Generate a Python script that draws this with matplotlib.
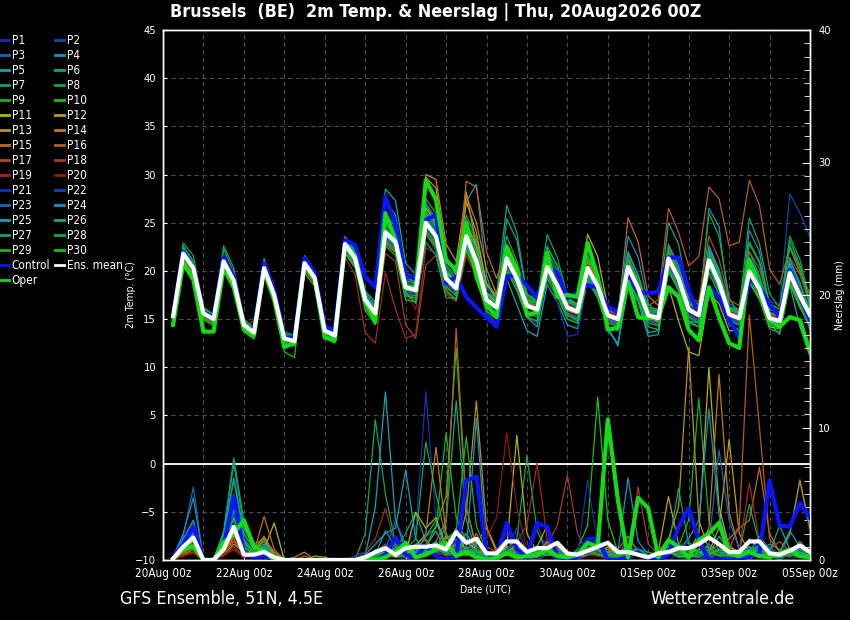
import numpy as np
import pandas as pd
import matplotlib
matplotlib.use("Agg")
import matplotlib.pyplot as plt
import matplotlib.dates as mdates
from matplotlib.lines import Line2D
from matplotlib.ticker import MultipleLocator

plt.rcParams['font.family'] = ['DejaVu Sans']
plt.rcParams['font.stretch'] = 'condensed'

# ---------------- time axis (6-hourly, 20Aug 06z .. 05Sep 00z) ----------------
times = pd.date_range("2026-08-20 06:00", "2026-09-05 00:00", freq="6h")
tick_labels = ["20Aug 00z", "22Aug 00z", "24Aug 00z", "26Aug 00z", "28Aug 00z",
               "30Aug 00z", "01Sep 00z", "03Sep 00z", "05Sep 00z"]

# ---------------- 2m temperature (deg C) ----------------
t_mean = [15.3,21.8,20.3,15.6, 15.0,21.0,19.0,14.4, 13.6,20.3,17.5,13.0, 12.7,20.8,19.3,13.8,
          13.3,22.8,21.3,17.0, 15.6,24.0,23.0,18.3, 18.0,25.0,23.6,19.2, 18.2,23.6,21.0,17.0,
          16.2,21.3,19.2,16.4, 16.0,20.4,18.5,16.2, 15.8,20.3,18.4,15.4, 15.0,20.4,18.2,15.4,
          15.1,21.3,19.2,16.0, 15.4,21.1,18.8,15.5, 15.1,19.9,18.1,15.1, 14.8,19.8,17.4,15.4]
t_ctrl = [15.4,22.0,20.4,15.7, 15.2,21.4,19.4,14.2, 13.9,20.8,18.0,13.1, 13.1,21.3,19.8,14.2,
          13.9,23.2,22.7,19.4, 18.3,27.7,24.8,19.4, 19.4,25.3,25.8,18.7, 19.4,17.3,16.2,15.2,
          14.2,19.4,19.6,18.5, 17.2,20.6,19.8,17.2, 17.7,18.5,18.3,16.3, 15.7,19.4,17.8,17.7,
          17.8,21.4,21.4,18.0, 15.4,18.3,17.3,14.9, 13.1,19.3,18.3,16.5, 15.2,20.1,17.3,14.9]
t_oper = [14.4,20.8,19.1,13.7, 13.7,20.3,18.3,13.9, 13.3,20.1,17.0,12.1, 12.5,20.8,19.1,13.1,
          12.8,22.5,21.6,17.0, 14.7,26.0,23.2,18.3, 18.2,29.4,27.4,21.1, 20.1,25.0,19.4,16.5,
          15.2,22.5,20.1,15.4, 15.7,21.9,17.3,17.5, 17.3,22.9,19.4,13.9, 14.1,18.9,15.2,15.1,
          15.2,18.3,17.3,13.9, 12.8,18.3,15.2,12.5, 12.0,21.1,18.3,14.9, 14.2,15.2,14.9,11.6]

t_P1 = [15.5,22.2,20.6,15.8, 15.2,21.3,19.4,14.6, 13.8,20.6,17.8,13.2, 12.9,21.2,19.7,14.1, 13.5,23.3,22.0,17.8, 16.4,25.0,23.8,18.9, 18.5,24.2,22.5,18.6, 17.5,22.4,20.1,16.2, 15.4,20.6,18.7,15.9, 15.5,19.8,18.1,15.6, 15.0,19.5,17.8,14.9, 14.5,19.6,17.5,14.6, 14.3,20.1,18.3,15.1, 14.6,20.0,18.0,14.7, 14.3,19.2,17.6,14.6, 14.2,19.0,16.9,14.8]
t_P2 = [15.2,21.6,20.1,15.4, 14.8,20.7,18.7,14.2, 13.4,20.0,17.2,12.8, 12.5,20.5,19.0,13.6, 13.1,22.4,21.0,16.7, 15.2,23.4,22.4,17.9, 17.6,24.3,22.0,18.4, 18.0,22.8,20.5,16.4, 15.8,20.2,18.0,15.2, 14.8,19.2,17.4,15.0, 14.6,19.4,17.6,14.8, 14.2,21.2,19.3,16.0, 15.6,22.0,19.8,16.5, 16.0,22.4,19.9,16.3, 15.9,21.0,19.2,16.8, 16.5,28.0,26.0,23.5]
t_P3 = [15.6,22.4,20.9,16.0, 15.4,21.6,19.6,14.9, 14.0,21.0,18.0,13.5, 13.2,21.4,19.9,14.3, 13.9,23.6,22.2,18.0, 16.5,25.4,24.3,19.8, 19.4,26.2,24.8,20.6, 19.5,25.4,23.0,18.2, 17.0,22.4,20.0,16.8, 16.3,20.8,18.9,16.6, 16.2,21.2,19.4,16.3, 15.8,21.6,19.2,16.2, 16.0,22.5,20.5,17.0, 16.2,22.4,20.2,16.6, 16.0,21.0,19.3,16.0, 15.7,20.8,18.4,16.2]
t_P4 = [15.1,22.0,20.5,15.5, 14.9,21.2,19.2,14.5, 13.5,20.4,17.4,12.9, 12.6,20.6,19.0,13.7, 13.2,22.6,21.4,17.4, 16.0,27.3,25.8,19.6, 18.6,25.6,24.4,20.0, 18.8,27.2,29.0,19.5, 16.4,21.6,19.5,16.4, 16.1,20.6,18.8,16.3, 15.6,20.1,18.0,15.0, 14.6,20.0,17.9,15.0, 14.8,20.6,18.6,15.2, 15.0,26.5,24.6,16.2, 15.2,20.4,18.4,15.3, 15.0,20.2,18.0,15.6]
t_P5 = [15.4,21.9,20.4,15.7, 15.1,21.1,19.1,14.5, 13.7,20.5,17.7,13.1, 12.8,21.0,19.4,14.0, 13.6,23.4,22.1,17.9, 16.8,28.5,27.3,20.8, 19.6,26.8,25.0,19.6, 17.6,22.2,19.6,15.6, 14.4,19.2,16.5,13.8, 13.2,18.6,16.8,14.4, 14.0,19.6,17.3,13.8, 12.5,18.2,16.8,13.2, 13.4,20.0,18.0,14.6, 14.2,22.6,20.1,15.3, 14.5,22.0,19.5,14.6, 13.4,18.6,14.2,11.2]
t_P6 = [15.2,22.6,21.0,15.9, 15.3,22.3,19.8,14.7, 13.9,20.8,17.9,13.4, 12.9,21.6,20.0,14.4, 13.8,23.2,21.8,17.5, 16.2,24.6,23.8,18.8, 18.5,27.0,25.4,20.5, 19.2,24.4,22.6,18.5, 17.5,26.8,24.0,17.5, 16.8,21.4,19.6,16.7, 16.5,21.0,19.2,16.0, 15.6,21.8,19.6,15.9, 15.8,25.0,22.8,17.2, 16.5,21.8,19.4,15.8, 15.6,21.4,19.2,15.6, 15.4,21.2,18.6,15.9]
t_P7 = [14.9,21.4,19.9,15.2, 14.6,20.6,18.6,14.0, 13.2,19.9,17.0,12.6, 12.3,20.2,18.8,13.4, 12.9,22.2,20.7,16.4, 15.0,22.8,21.9,17.6, 17.4,24.6,23.0,18.8, 17.9,23.0,20.4,16.6, 16.0,22.4,20.6,17.2, 16.6,23.8,21.4,17.4, 16.2,21.4,19.5,15.9, 15.4,21.0,18.8,15.6, 15.3,21.6,19.6,16.2, 15.8,21.8,19.6,16.2, 16.0,25.5,22.8,17.6, 16.2,22.5,19.8,16.4]
t_P8 = [15.0,22.9,21.6,16.2, 15.5,22.6,20.3,15.0, 14.1,21.3,18.4,13.7, 13.3,21.0,19.5,13.9, 13.4,22.9,21.5,17.2, 15.8,24.4,23.3,18.5, 18.2,27.5,26.0,21.0, 19.8,25.8,23.4,18.8, 17.4,23.6,21.0,17.4, 16.9,22.6,20.5,17.0, 16.0,20.8,18.8,15.7, 15.2,20.8,18.6,15.6, 15.4,21.6,19.4,16.2, 15.7,26.0,23.6,17.2, 15.5,20.6,18.7,15.5, 15.2,20.2,17.8,15.7]
t_P9 = [15.3,21.7,20.2,15.5, 15.0,21.0,18.9,14.3, 13.6,20.2,17.4,12.9, 12.6,20.7,19.2,13.7, 13.2,22.7,21.2,16.9, 15.5,23.6,22.6,18.0, 17.8,24.8,23.4,19.0, 18.0,23.3,20.8,16.8, 16.0,21.0,19.0,16.2, 15.8,20.2,18.3,16.0, 15.6,20.0,18.2,15.2, 14.8,20.1,18.0,15.2, 14.9,21.0,19.0,15.8, 15.2,20.8,18.6,15.3, 14.9,19.6,17.9,14.9, 14.6,19.5,17.2,15.2]
t_P10 = [15.7,22.3,20.8,16.1, 15.4,21.6,19.5,14.8, 14.0,20.8,18.0,13.4, 13.1,21.3,19.8,14.2, 13.7,23.4,21.9,17.6, 16.1,24.8,23.6,18.8, 18.6,25.8,24.2,19.8, 18.8,24.3,21.6,17.6, 16.8,22.0,19.9,17.0, 16.6,21.0,19.0,16.8, 16.4,21.0,19.0,16.0, 15.6,21.1,18.8,16.0, 15.8,22.0,19.9,16.6, 16.0,21.8,19.4,16.1, 15.7,20.6,18.7,15.7, 15.4,20.5,18.0,16.0]
t_P11 = [15.0,21.2,19.7,15.1, 14.5,20.4,18.4,13.9, 13.1,19.8,16.9,12.5, 12.2,20.1,18.6,13.2, 12.7,22.0,20.5,16.2, 14.6,23.0,22.0,17.4, 17.2,26.5,25.0,19.8, 19.0,25.0,22.6,17.8, 16.6,21.8,19.8,16.6, 16.4,20.8,18.6,16.0, 15.6,23.8,21.5,16.2, 15.2,21.0,18.8,15.6, 14.6,18.4,14.8,11.6, 11.2,17.6,16.6,13.8, 13.8,18.8,17.2,14.2, 14.0,18.8,16.4,14.6]
t_P12 = [15.5,22.1,20.6,15.9, 15.2,21.4,19.3,14.7, 13.8,20.6,17.8,13.3, 12.9,21.1,19.6,14.1, 13.5,23.1,21.6,17.3, 15.9,24.2,23.2,18.4, 18.2,29.7,28.6,21.5, 19.6,27.2,24.0,18.6, 17.2,22.6,20.2,16.8, 16.0,20.2,18.2,15.9, 15.5,20.0,18.0,15.2, 14.9,20.2,18.0,15.2, 15.0,21.0,19.0,15.8, 15.3,20.9,18.6,15.3, 15.0,19.7,17.9,15.0, 14.7,19.6,17.2,15.3]
t_P13 = [15.2,21.5,20.0,15.4, 14.8,20.8,18.8,14.2, 13.4,20.1,17.3,12.8, 12.5,20.6,19.1,13.6, 13.1,22.6,21.1,16.8, 15.4,23.8,22.8,18.1, 18.3,30.0,29.5,22.8, 21.0,28.2,22.5,17.5, 16.0,21.0,19.0,16.2, 15.9,20.4,18.4,16.0, 15.6,20.2,18.2,15.2, 14.8,20.3,18.0,15.2, 14.8,21.2,19.0,15.8, 15.2,20.9,18.6,15.4, 15.0,19.8,18.0,15.0, 14.6,19.6,17.2,15.2]
t_P14 = [15.6,22.0,20.4,15.6, 15.1,21.2,19.2,14.6, 13.8,20.5,17.7,13.2, 12.9,21.0,19.5,14.0, 13.5,23.0,21.5,17.2, 15.8,24.4,23.3,18.6, 18.3,25.6,24.0,19.6, 18.6,27.8,25.0,20.2, 17.6,22.8,20.6,17.0, 16.3,20.8,18.8,16.4, 16.0,20.8,18.8,15.8, 15.4,21.0,18.8,15.8, 15.5,21.8,19.6,16.4, 15.8,21.6,19.2,15.9, 15.5,20.4,18.5,15.5, 15.2,20.4,17.9,15.8]
t_P15 = [15.1,21.6,20.1,15.4, 14.9,20.8,18.8,14.2, 13.5,20.1,17.3,12.8, 12.6,20.6,19.1,13.6, 13.1,22.5,21.0,16.8, 15.4,23.8,22.8,18.2, 17.8,24.6,23.2,18.8, 18.4,29.3,28.7,22.0, 19.2,22.4,20.4,16.8, 16.2,20.8,18.8,16.4, 16.0,21.2,19.0,15.8, 15.2,25.5,23.0,17.4, 16.4,21.6,19.4,16.2, 15.6,21.6,19.2,15.8, 15.3,20.4,18.4,15.2, 15.0,20.2,17.6,15.6]
t_P16 = [15.3,21.9,20.4,15.7, 15.0,21.1,19.0,14.4, 13.6,20.3,17.6,13.0, 12.7,20.9,19.4,13.9, 13.3,22.9,21.4,17.1, 15.6,24.1,23.1,18.4, 18.0,25.1,23.7,19.3, 18.3,23.7,21.1,17.1, 16.3,21.4,19.3,16.5, 16.1,20.5,18.6,16.3, 15.9,20.6,18.6,15.6, 15.4,21.4,19.0,16.4, 17.0,26.5,24.0,20.5, 21.5,28.7,27.5,22.6, 23.0,29.4,26.8,20.2, 18.6,22.4,20.0,17.6]
t_P17 = [14.8,21.3,19.8,15.0, 14.6,20.5,18.5,13.9, 13.2,19.8,17.0,12.6, 12.3,20.3,18.8,13.4, 12.8,22.1,20.6,16.2, 14.8,23.0,22.0,17.3, 17.0,24.0,22.6,18.2, 17.5,22.8,20.2,16.2, 15.4,20.6,18.5,15.8, 15.6,20.0,18.0,15.6, 15.2,19.8,17.8,14.8, 14.4,20.6,18.4,15.4, 15.6,22.8,20.6,17.2, 16.8,23.6,21.2,17.0, 16.4,22.0,20.2,16.6, 16.0,21.4,19.6,16.8]
t_P18 = [15.4,21.7,20.1,15.5, 14.9,20.9,18.9,14.3, 13.5,20.2,17.4,12.9, 12.6,20.7,19.2,13.7, 13.2,22.7,21.2,16.5, 14.6,21.8,21.0,14.4, 13.0,20.6,21.6,17.8, 17.0,22.0,19.6,16.0, 15.8,20.6,18.6,15.8, 15.4,19.8,17.9,15.6, 15.2,19.6,17.8,14.8, 14.5,19.8,17.6,14.9, 14.6,20.6,18.6,15.5, 14.9,20.5,18.2,15.0, 14.6,19.4,17.6,14.7, 14.3,19.2,16.8,14.9]
t_P19 = [15.0,21.4,19.9,15.2, 14.7,20.6,18.5,14.0, 14.9,19.4,16.8,12.5, 12.2,20.0,18.6,13.2, 12.8,21.4,19.6,13.6, 12.5,19.8,16.0,13.0, 13.4,22.4,21.8,17.6, 16.8,21.6,19.4,15.8, 15.2,20.4,18.4,15.6, 15.6,19.8,18.0,15.6, 15.0,19.6,17.6,14.6, 14.4,19.6,17.6,14.8, 14.4,20.4,18.4,15.4, 14.8,20.4,18.2,15.0, 14.6,19.4,17.6,14.6, 14.2,19.0,16.8,14.8]
t_P20 = [15.3,21.5,20.0,15.4, 14.9,20.8,18.8,14.2, 13.5,20.1,17.3,12.9, 12.6,20.6,19.1,13.6, 13.1,22.3,20.8,16.4, 15.0,23.2,22.2,17.6, 16.0,23.8,23.0,18.6, 18.2,23.4,21.6,17.2, 16.6,21.2,19.2,16.5, 16.2,21.0,19.2,16.6, 16.0,20.6,18.8,15.8, 15.4,20.8,18.8,15.8, 15.6,21.6,19.6,16.4, 15.8,21.4,19.2,15.8, 15.4,20.2,18.4,15.4, 15.0,20.0,17.6,15.6]
t_P21 = [15.6,22.3,20.7,15.9, 15.3,21.4,19.4,14.7, 13.9,20.6,17.8,13.3, 13.0,21.1,19.6,14.1, 13.6,23.1,21.6,17.4, 16.0,24.6,23.5,18.8, 18.6,24.8,23.0,18.8, 18.4,22.6,19.8,15.6, 14.6,20.2,18.0,15.2, 14.6,19.6,16.8,13.2, 13.4,19.2,17.4,14.6, 14.2,19.8,17.6,14.8, 14.6,20.8,18.8,15.6, 15.0,20.6,18.4,15.1, 14.8,19.6,17.8,14.8, 14.5,19.4,17.0,15.0]
t_P22 = [15.2,21.6,20.1,15.4, 14.8,20.8,18.8,14.2, 13.4,20.1,17.3,12.8, 12.5,20.6,19.1,13.6, 13.1,22.5,21.0,16.8, 15.6,25.2,24.0,19.2, 18.8,25.6,24.2,19.6, 18.6,24.0,21.4,17.4, 16.6,21.8,19.6,16.8, 16.4,20.8,18.8,16.4, 16.0,20.6,18.6,15.6, 15.2,20.6,18.4,15.6, 15.3,21.4,19.4,16.2, 15.6,21.4,19.0,15.7, 15.3,20.2,18.4,15.3, 15.0,20.0,17.6,15.6]
t_P23 = [15.4,22.0,20.5,15.8, 15.1,21.2,19.2,14.6, 13.7,20.5,17.7,13.2, 12.8,21.0,19.5,14.0, 13.4,23.0,21.5,17.2, 15.2,23.4,22.4,17.8, 17.6,24.4,23.0,18.8, 17.8,23.0,20.4,16.4, 15.6,20.8,18.7,15.9, 15.5,19.9,18.0,15.7, 15.2,19.8,17.9,14.9, 14.4,19.9,17.6,14.9, 14.5,20.8,18.7,15.5, 14.8,20.6,18.2,15.0, 14.5,19.4,17.6,14.6, 14.3,19.2,16.8,14.9]
t_P24 = [15.0,21.8,20.2,15.4, 14.9,21.0,19.0,14.4, 13.5,20.2,17.4,12.9, 12.6,20.8,19.3,13.8, 13.2,22.8,21.3,17.0, 15.5,23.9,22.9,18.2, 17.9,24.9,23.5,19.1, 18.1,23.5,20.9,16.9, 16.1,21.2,19.1,16.3, 15.9,20.3,18.4,16.1, 15.7,20.2,18.3,15.3, 14.9,23.6,21.4,16.6, 15.6,21.2,19.1,15.9, 15.3,21.0,18.7,15.4, 15.0,24.2,22.0,16.2, 15.4,21.2,18.8,15.6]
t_P25 = [15.5,22.1,20.6,15.9, 15.2,21.3,19.3,14.6, 13.8,20.6,17.8,13.3, 12.9,21.1,19.6,14.1, 13.5,23.2,21.8,17.5, 16.2,25.8,24.6,19.4, 18.8,26.0,24.6,20.0, 19.0,24.8,22.2,17.8, 16.2,21.0,18.8,15.2, 14.2,19.6,17.8,15.4, 14.8,19.4,17.4,14.2, 12.2,18.8,17.0,13.6, 13.8,20.0,18.0,14.8, 14.6,22.0,19.8,15.4, 14.8,20.6,18.6,14.8, 14.2,20.8,17.6,13.8]
t_P26 = [15.1,21.6,20.1,15.4, 14.8,20.7,18.7,14.2, 13.4,20.0,17.2,12.8, 12.5,20.5,19.0,13.6, 13.0,22.4,20.9,16.6, 15.2,23.6,22.6,17.8, 16.6,23.0,21.6,17.2, 17.2,22.6,20.0,16.2, 15.6,25.4,23.2,17.6, 17.0,22.0,20.0,17.2, 16.6,21.6,19.6,16.2, 15.8,22.0,19.6,16.2, 16.0,22.6,20.4,16.8, 16.2,22.2,19.8,16.2, 16.0,21.4,19.4,16.0, 15.6,22.6,20.4,16.6]
t_P27 = [15.3,22.2,20.6,15.8, 15.2,21.5,19.4,14.7, 13.8,20.7,17.9,13.3, 12.9,21.2,19.7,14.2, 13.6,23.2,21.7,17.3, 15.9,24.4,23.4,18.6, 18.4,25.4,24.0,19.6, 18.6,24.0,21.4,17.4, 16.6,21.8,19.6,16.8, 16.4,22.4,20.6,17.0, 16.4,21.4,19.4,16.0, 15.6,21.0,18.8,15.8, 15.6,22.2,20.0,16.6, 16.0,21.8,19.4,16.0, 15.6,22.8,20.8,16.4, 15.6,23.6,21.2,16.8]
t_P28 = [14.9,21.4,19.9,15.2, 14.6,20.6,18.6,14.0, 13.2,19.9,17.1,12.6, 12.3,20.3,18.8,13.4, 12.9,22.2,20.7,16.4, 14.9,23.2,22.2,17.5, 17.2,24.2,22.8,18.4, 17.4,22.8,20.2,16.2, 15.4,20.4,18.4,15.6, 15.2,19.6,17.8,15.4, 15.0,19.6,17.6,14.6, 14.2,19.6,17.4,14.6, 14.3,20.4,18.4,15.2, 14.6,20.4,18.0,14.8, 14.4,19.2,17.4,14.4, 14.0,19.0,16.6,14.6]
t_P29 = [15.6,22.4,20.8,16.0, 15.4,21.6,19.6,14.8, 14.0,20.9,18.1,13.5, 13.1,21.4,19.9,14.3, 13.8,23.5,22.0,17.7, 16.2,25.0,23.9,19.0, 18.7,26.2,24.6,20.2, 19.0,24.6,22.0,17.8, 17.0,22.4,20.2,17.2, 16.8,21.2,19.4,17.0, 16.6,21.4,19.4,16.2, 15.8,21.2,19.0,16.2, 16.0,22.2,20.0,16.6, 16.2,21.8,19.6,16.2, 15.8,23.0,21.0,16.6, 16.0,23.2,20.6,16.4]
t_P30 = [14.8,21.0,19.5,14.9, 14.3,20.2,18.2,13.7, 12.9,19.5,16.7,11.6, 11.0,19.8,18.4,13.0, 12.5,21.8,20.3,15.9, 14.4,22.6,21.6,17.0, 16.8,23.8,22.4,18.0, 17.0,22.2,19.6,15.8, 15.0,20.0,18.0,15.2, 14.8,19.2,17.4,15.0, 14.6,19.0,17.2,14.2, 13.8,19.2,17.0,14.2, 13.9,20.0,18.0,14.8, 14.2,19.8,17.6,14.4, 13.9,18.8,17.0,14.0, 13.6,18.6,16.2,14.2]

# ---------------- precipitation (mm / 6h) ----------------
p_mean = [0.1,1.0,1.7,0, 0,0.8,2.5,0.4, 0.4,0.6,0.2,0, 0,0,0,0, 0,0,0,0.2, 0.6,0.9,0.4,0.9,
          1.0,1.0,1.1,0.8, 2.1,1.3,1.6,0.5, 0.5,1.4,1.4,0.6, 0.9,0.9,1.3,0.5, 0.4,0.7,1.0,1.3,
          0.6,0.6,0.4,0.2, 0.5,0.6,0.9,0.9, 1.2,1.7,1.2,0.6, 0.6,1.4,1.4,0.5, 0.4,0.7,1.1,0.6]
p_ctrl = [0.2,1.2,2.5,0, 0,1.0,4.8,0.5, 0.2,0.3,0,0, 0,0,0,0, 0,0,0,0, 0,0.4,1.7,0.4,
          0.2,1.1,0.3,0, 0.2,6.0,6.3,0.5, 0.2,2.8,0.8,0.2, 2.8,2.5,0.3,0, 0.2,1.6,1.6,0,
          0,0.2,0.6,0, 0,0.4,2.5,3.9, 1.5,0,0,0, 0,0.3,0.5,6.0, 2.6,2.5,4.3,3.2]
p_oper = [0.1,0.8,1.0,0, 0,1.3,2.0,3.0, 1.0,0.7,0,0, 0,0,0,0, 0,0,0,0, 0,0.2,0.6,1.3,
          0.2,0.4,0.8,1.3, 0.3,0.6,0.2,0, 0.2,0.5,0.2,0.3, 0.4,0.8,0.3,0.2, 0.4,1.3,1.0,10.6,
          4.5,0.2,4.7,3.9, 0.2,1.5,1.0,0.2, 1.5,2.0,2.8,0.5, 0.3,0.6,0.3,0.2, 0.5,0.8,0.3,0.2]

p_P1 = [0.2,1.2,1.6,0, 0,0.8,2.4,0.6, 0.4,0.8,0.2,0, 0,0,0,0, 0,0,0,0, 0.3,0.8,0.4,1.0, 2.2,12.7,3.0,0.6, 0.4,0.8,1.2,0.2, 0,0.6,0.3,0, 0.4,1.2,0.6,0, 0,0.3,0.8,0.4, 0,0.5,1.0,0.2, 0,0,0.4,0.8, 0.2,0,0.6,1.2, 0.4,0,0.8,0.4, 0,0,0.3,0.6]
p_P2 = [0.1,0.9,1.4,0, 0,1.0,3.0,0.8, 0.5,0.6,0,0, 0,0,0,0, 0,0,0,0.2, 0.5,1.2,0.3,0, 0.4,0.8,0.6,1.4, 0.8,0.3,0.6,0, 0,0.8,0.4,0.6, 2.8,0.6,0,0, 0.2,0.6,0.4,0, 0,0.3,0.8,0.4, 0.2,0.6,0.3,0, 0,0.4,0.8,0.2, 0,0.5,1.2,0.6, 0.4,1.8,6.1,2.0]
p_P3 = [0.3,1.8,5.5,0, 0,1.4,3.6,1.2, 0.6,1.0,0.2,0, 0,0,0,0, 0,0,0,0, 0.8,0.4,1.6,0.6, 0.2,0.6,1.0,0.4, 1.4,2.0,0.6,0.3, 0.2,1.0,0.6,0.2, 0,0.4,1.2,0.3, 0,0.8,1.6,0.5, 0.2,1.8,0.6,0, 0,0.4,0.6,1.4, 0.6,0.2,0.4,0.8, 0.3,0,0.6,1.0, 0.4,0.2,1.0,0.3]
p_P4 = [0.2,2.0,4.7,0, 0,1.6,4.2,1.0, 0.4,1.2,0.3,0, 0,0,0,0, 0,0,0,0, 0.4,2.2,1.0,0.4, 0.8,1.2,0.4,0.8, 1.6,0.8,10.7,0.6, 0.2,0.4,1.4,0.4, 0.2,0.8,0.3,0, 0.4,1.0,0.6,0.2, 0.6,6.2,1.4,0.4, 0,0.6,0.4,0.8, 0.4,1.2,0.6,0.3, 0.2,1.6,0.8,0.4, 0,0.6,0.8,0.4]
p_P5 = [0.2,1.4,2.0,0, 0,1.6,6.2,2.0, 0.8,1.4,0.4,0, 0,0,0,0, 0,0,0,0.3, 4.0,12.7,3.0,0.8, 0.4,1.0,2.2,0.6, 0.3,0.6,0.8,0.2, 0,0.4,0.8,0.3, 0.6,1.4,0.4,0, 0.3,0.6,0.4,0.6, 0.2,0.8,0.4,0, 0.4,0.6,0.2,0.3, 0.8,0.4,1.8,0.6, 0.2,0.4,0.6,1.2, 0.8,0.3,0.6,0.2]
p_P6 = [0.1,1.2,2.4,0, 0,2.0,7.3,2.4, 1.0,0.8,0.2,0, 0,0,0,0, 0,0,0,0, 0.6,0.4,0.8,2.0, 3.6,1.4,0.6,2.8, 12.0,3.0,0.6,0.4, 0.2,0.6,1.0,0.4, 0.3,0.6,1.2,0.4, 0.2,0.4,0.8,0.3, 0.6,1.0,0.4,0.2, 0.4,0.8,0.6,0.2, 0.3,0.6,0.4,0.8, 0.4,1.0,0.6,0.3, 0.2,0.4,1.4,0.6]
p_P7 = [0.1,0.8,1.6,0, 0,2.2,7.7,3.0, 1.2,1.6,0.4,0, 0,0,0,0, 0,0,0,2.0, 10.6,5.0,1.2,0.4, 0.6,0.8,1.4,0.4, 0.8,1.0,0.4,0.2, 0,0.6,0.4,0.2, 0.2,0.6,0.8,0.4, 0.2,0.4,0.6,0.2, 0.2,0.6,0.8,0.2, 0.3,0.6,0.4,0.6, 0.8,0.6,0.3,1.0, 0.6,4.2,1.2,0.4, 0.3,0.6,0.8,0.4]
p_P8 = [0.2,1.0,1.8,0, 0,1.2,4.0,1.4, 0.6,0.8,0.2,0, 0,0,0,0, 0,0,0,0, 0.3,0.6,1.2,0.8, 1.6,8.9,5.0,1.6, 2.0,0.6,0.8,0.4, 0.3,0.8,1.6,7.9, 2.2,0.6,0.4,0.2, 0.3,0.6,0.4,0.2, 0.4,0.8,0.6,0.2, 0.2,0.6,0.8,0.4, 0.6,1.0,0.4,0.2, 0.4,0.6,1.0,0.6, 0.3,0.6,0.4,0.2]
p_P9 = [0.1,0.8,1.2,0, 0,1.0,2.6,1.0, 0.4,0.6,0.2,0, 0,0,0,0, 0,0,0,0, 0.2,0.6,0.4,0.8, 1.2,1.8,2.4,9.6, 3.2,1.4,0.6,0.2, 0.4,1.0,0.6,0.2, 0.3,0.4,1.0,0.6, 0.2,0.4,1.0,0.6, 0.4,0.8,0.3,0, 0.2,0.6,1.0,3.0, 12.2,3.0,0.6,0.3, 0.2,0.6,0.8,0.4, 0.6,0.4,0.2,0.4]
p_P10 = [0.2,1.0,1.4,0, 0,0.8,2.2,0.8, 0.6,0.4,0,0, 0,0,0,0, 0,0,0,0, 0.4,0.2,0.6,0.4, 0.6,1.0,2.6,4.8, 16.0,4.0,1.0,0.6, 0.3,0.6,1.0,0.4, 0.6,0.8,0.4,0.2, 0.8,2.6,12.3,3.0, 0.6,0.3,0.6,0.4, 0.2,0.4,0.6,0.3, 0.4,0.8,0.3,0.2, 0.6,0.4,0.8,0.3, 0.2,0.4,0.6,0.3]
p_P11 = [0.1,0.4,0.8,0, 0,0.6,1.4,0.6, 0.4,0.8,2.8,0, 0,0,0,0, 0,0,0,0, 0.3,0.6,0.2,0.4, 3.6,2.4,3.2,1.0, 0.6,1.4,0.8,0.3, 0.4,1.0,9.4,2.0, 0.6,0.4,0.3,0.2, 0.2,0.6,0.4,1.0, 0.4,0.6,0.3,0.2, 0.6,1.0,0.4,0.6, 2.0,14.5,4.0,1.0, 0.6,0.4,0.2,0.6, 0.4,0.8,0.6,0.3]
p_P12 = [0.1,0.6,1.0,0, 0,0.4,1.2,0.6, 0.3,0.6,0.2,0, 0,0,0.3,0.2, 0,0,0,0, 0.2,0.4,0.3,0.6, 0.4,0.8,1.2,0.6, 2.4,0.6,0.4,0.2, 0.4,0.6,1.2,0.4, 1.0,2.6,0.6,0.2, 0.3,0.6,0.8,0.4, 0.2,0.4,0.6,0.3, 0.6,4.8,1.2,0.4, 0.3,0.6,2.4,9.1, 2.0,0.6,0.4,0.2, 0.4,0.6,1.0,0.3]
p_P13 = [0.1,0.5,1.2,0, 0,0.6,1.8,0.8, 0.6,1.6,0.6,0, 0,0,0,0, 0,0,0,0, 0.2,0.6,0.8,0.4, 0.6,0.4,0.8,1.8, 0.6,3.6,12.0,2.4, 0.6,0.8,0.4,0.2, 0.4,0.6,1.0,0.3, 0.2,0.4,0.6,0.4, 0.3,0.6,0.8,0.4, 0.6,1.6,4.0,16.0, 3.0,0.8,0.6,0.4, 0.4,0.8,0.6,0.3, 0.6,2.0,6.0,2.4]
p_P14 = [0.1,0.6,1.0,0, 0,0.8,2.0,0.6, 0.8,1.8,0.4,0, 0.2,0.6,0,0, 0,0,0,0, 0.4,0.2,0.6,0.4, 1.0,2.0,8.5,2.0, 0.8,0.4,1.2,2.5, 0.8,0.4,0.6,0.3, 0.2,1.4,0.8,0.4, 0.6,0.4,0.6,0.8, 0.4,0.2,0.6,0.4, 0.3,0.6,0.8,0.4, 0.8,2.4,14.0,3.6, 0.8,0.4,0.6,0.2, 0.4,0.6,0.3,0.2]
p_P15 = [0.2,0.8,1.4,0, 0,1.0,2.6,0.8, 0.6,3.3,0.8,0, 0,0,0,0, 0,0,0,0, 0.2,0.6,0.4,0.3, 0.6,1.2,0.8,0.6, 1.2,0.6,2.0,0.4, 0.3,0.6,0.8,0.4, 0.6,1.0,0.6,0.2, 0.4,0.6,0.3,0.6, 0.8,1.8,0.6,0.2, 0.4,0.8,0.6,0.3, 0.6,0.4,0.8,1.6, 2.4,3.0,7.0,2.0, 0.6,0.4,0.3,0.2]
p_P16 = [0.1,0.6,1.2,0, 0,0.6,1.6,0.4, 0.4,1.0,0.2,0, 0,0.3,0,0, 0,0,0,0, 0.3,0.4,0.6,0.2, 0.4,0.6,1.4,3.0, 17.5,4.0,0.8,0.6, 0.4,0.6,0.3,0.2, 0.4,0.6,0.8,0.3, 0.2,0.4,0.6,0.3, 0.2,0.6,0.4,0.2, 0.4,0.6,0.8,0.4, 0.3,0.6,1.2,0.8, 2.6,18.5,10.0,1.6, 0.6,0.4,0.6,0.3]
p_P17 = [0.1,0.5,0.8,0, 0,0.6,1.4,0.6, 0.3,0.8,0.2,0, 0,0,0,0, 0,0,0,0, 0.2,0.8,0.4,0.6, 0.8,1.6,0.6,0.4, 0.6,0.8,0.4,1.0, 0.6,0.4,0.8,0.3, 0.3,0.6,0.4,0.2, 0.6,0.8,0.4,0.3, 0.2,0.4,0.6,0.3, 0.2,0.6,0.4,0.8, 0.6,0.3,0.4,0.6, 0.3,0.6,0.4,0.8, 1.4,0.6,0.8,0.4]
p_P18 = [0.1,0.4,0.6,0, 0,0.4,1.0,0.3, 0.2,0.6,0,0, 0,0,0,0, 0,0,0,0.2, 0.6,1.2,0.8,0.4, 0.2,0.6,0.8,0.4, 0.6,0.3,0.6,0.2, 0.3,0.6,0.4,0.2, 0.6,1.2,2.6,6.4, 2.0,0.6,0.4,0.2, 0.4,0.6,5.5,1.2, 0.4,0.6,0.3,0.2, 0.4,0.8,0.6,0.3, 0.6,0.4,0.3,0.6, 0.3,0.4,0.6,0.2]
p_P19 = [0.1,0.3,0.6,0, 0,0.4,0.8,0.2, 0.2,0.4,0,0, 0,0,0,0, 0,0,0,0.6, 1.6,3.9,1.0,0.4, 0.2,0.4,0.6,0.3, 0.4,0.6,0.3,0.2, 0.4,0.6,1.4,2.6, 7.3,1.6,0.6,0.3, 0.4,0.6,0.3,0.2, 0.3,0.6,0.4,0.2, 0.3,0.4,0.6,0.3, 0.6,0.4,0.3,0.6, 0.8,5.8,1.4,0.6, 0.4,0.3,0.6,0.2]
p_P20 = [0,0.3,0.5,0, 0,0.3,0.8,0.2, 0.2,0.3,0,0, 0,0,0,0, 0,0,0,0, 0.3,0.6,0.4,0.2, 0.4,0.6,0.3,0.6, 0.8,0.4,0.6,1.6, 3.2,9.6,4.0,0.8, 0.4,0.6,0.3,0.2, 0.6,0.4,0.3,0.2, 0.4,0.6,0.3,0.2, 0.3,0.6,0.4,0.6, 0.3,0.4,0.6,0.3, 0.4,0.6,0.3,0.2, 0.4,0.3,0.6,0.4]
p_P21 = [0.2,1.4,2.2,0, 0,1.2,3.4,0.8, 0.4,0.6,0.2,0, 0,0,0,0, 0,0,0,0.2, 0.4,0.8,0.6,0.3, 0.6,1.0,0.4,0.8, 1.4,0.6,0.4,0.2, 0.6,2.0,0.8,0.4, 0.6,1.6,0.4,0.2, 0.3,6.0,1.2,0.4, 0.2,0.6,0.8,0.4, 0.3,0.6,0.4,0.8, 0.3,0.6,0.4,0.2, 0.6,0.8,1.2,0.4, 0.2,0.6,0.4,0.3]
p_P22 = [0.2,1.6,2.8,0, 0,1.4,3.0,1.0, 0.4,0.6,0.2,0, 0,0,0,0, 0,0,0.3,0.6, 0.4,0.6,0.8,0.4, 0.6,0.8,1.2,0.4, 0.8,0.4,0.6,0.3, 0.4,0.6,2.4,0.6, 0.4,0.6,0.8,0.3, 0.4,0.8,0.6,0.3, 0.4,0.6,0.8,0.4, 0.2,0.8,0.6,0.3, 0.4,0.6,0.8,0.4, 0.3,0.6,0.8,0.4, 0.2,0.6,1.0,0.4]
p_P23 = [0.2,1.2,2.6,0, 0,1.8,4.4,1.4, 0.6,1.0,0.3,0, 0,0,0,0, 0,0,0,0, 0.6,0.8,3.0,1.2, 0.6,1.2,0.6,0.8, 1.0,0.6,0.8,0.4, 0.4,0.6,0.8,0.6, 0.4,0.8,0.6,0.4, 0.6,0.4,0.8,0.6, 0.2,1.0,0.6,0.3, 0.4,0.6,1.2,0.8, 0.6,1.2,8.3,3.0, 0.8,0.4,0.6,0.3, 0.4,0.6,0.8,0.3]
p_P24 = [0.2,1.0,2.2,0, 0,1.2,3.2,1.0, 0.4,0.8,0.2,0, 0,0,0,0, 0,0,0,0, 0.3,0.6,0.4,0.8, 0.6,0.4,1.0,0.6, 0.8,1.4,0.6,0.4, 0.3,0.8,0.6,0.2, 0.3,0.6,0.8,0.4, 0.4,0.6,0.8,0.3, 0.4,0.6,0.8,0.2, 0.3,0.6,0.8,1.6, 3.0,11.4,3.4,0.8, 0.6,0.4,0.8,0.4, 0.3,0.6,0.8,0.3]
p_P25 = [0.2,1.6,3.0,0, 0,1.6,4.8,1.4, 0.6,1.0,0.2,0, 0,0,0,0, 0,0,0,0.4, 1.2,2.0,2.4,6.8, 1.6,0.6,1.0,0.4, 0.6,0.8,0.4,0.2, 0.4,0.6,0.8,0.4, 0.6,0.8,0.4,0.2, 0.3,0.6,0.8,0.4, 0.6,0.8,0.4,0.2, 0.3,0.6,0.4,0.8, 0.6,0.4,0.8,0.4, 0.2,0.8,1.0,0.6, 2.6,0.8,0.6,0.3]
p_P26 = [0.1,1.0,2.0,0, 0,2.0,6.0,2.0, 0.8,1.2,0.3,0, 0,0,0,0, 0,0,0,0, 0.4,0.6,0.8,0.4, 0.6,1.8,3.0,0.8, 0.6,2.0,0.8,0.4, 0.2,0.6,0.4,0.6, 0.8,0.4,0.3,0.2, 0.4,0.6,1.2,0.6, 0.4,0.8,0.6,0.3, 0.4,0.8,0.6,0.3, 0.2,0.6,0.4,0.8, 0.4,1.0,0.6,0.3, 0.6,2.2,1.0,0.6]
p_P27 = [0.1,0.8,1.6,0, 0,1.6,5.0,1.6, 0.6,1.0,0.2,0, 0,0,0,0, 0,0,0,0, 0.6,0.4,1.0,0.6, 0.8,0.6,1.4,0.4, 1.2,0.8,0.6,0.3, 0.4,0.8,0.6,0.2, 0.6,0.4,0.8,0.6, 0.3,0.6,0.8,0.4, 0.2,0.6,0.8,0.6, 0.4,1.0,5.4,1.2, 0.6,0.8,0.4,0.3, 0.4,0.6,1.8,0.8, 0.3,0.6,0.4,0.2]
p_P28 = [0.1,0.6,1.4,0, 0,1.4,4.6,1.2, 0.6,0.8,0.2,0, 0,0,0,0, 0,0,0,0, 0.3,0.6,0.4,0.2, 0.4,0.8,0.6,1.0, 0.6,0.4,0.8,0.3, 0.4,0.6,0.4,0.3, 0.6,0.8,0.4,0.3, 0.3,0.6,0.4,0.2, 0.4,0.6,0.4,0.3, 0.2,0.6,0.8,0.4, 0.4,0.6,0.3,0.4, 0.6,0.8,0.4,0.3, 0.4,0.6,0.3,0.2]
p_P29 = [0.1,1.0,1.8,0, 0,1.4,3.8,1.2, 0.6,0.8,0.2,0, 0,0,0,0, 0,0,0,0, 0.4,0.6,0.3,0.6, 0.8,1.2,0.6,1.6, 2.2,9.3,2.6,0.6, 0.4,0.6,0.8,0.3, 0.4,0.6,0.3,0.2, 0.6,0.8,0.4,0.3, 0.4,0.6,0.8,0.3, 0.2,0.6,0.4,0.3, 0.4,0.8,0.6,0.4, 0.3,0.6,0.8,0.4, 0.6,0.3,0.4,0.2]
p_P30 = [0.1,0.8,1.4,0, 0,1.2,3.2,1.0, 0.4,0.6,0.2,0, 0,0,0,0, 0,0,0,0, 0.2,0.6,0.4,0.3, 0.4,0.6,0.8,0.6, 0.8,0.4,0.6,0.3, 0.2,0.6,0.4,0.8, 0.6,0.4,0.6,0.3, 0.4,0.6,0.8,0.4, 0.3,0.6,0.4,0.2, 0.4,0.6,0.3,0.2, 0.6,0.4,0.8,0.6, 0.4,0.6,0.3,0.4, 0.2,0.4,0.6,0.3]

member_names = ["P%d" % i for i in range(1, 31)]
member_temps = [t_P1, t_P2, t_P3, t_P4, t_P5, t_P6, t_P7, t_P8, t_P9, t_P10,
                t_P11, t_P12, t_P13, t_P14, t_P15, t_P16, t_P17, t_P18, t_P19, t_P20,
                t_P21, t_P22, t_P23, t_P24, t_P25, t_P26, t_P27, t_P28, t_P29, t_P30]
member_precs = [p_P1, p_P2, p_P3, p_P4, p_P5, p_P6, p_P7, p_P8, p_P9, p_P10,
                p_P11, p_P12, p_P13, p_P14, p_P15, p_P16, p_P17, p_P18, p_P19, p_P20,
                p_P21, p_P22, p_P23, p_P24, p_P25, p_P26, p_P27, p_P28, p_P29, p_P30]

palette = ['#1a30a8', '#1048a8', '#1466b4', '#1492c0', '#12a4b4', '#10a488', '#10a464',
           '#10aa44', '#12b428', '#14c414', '#b4b414', '#bca014', '#bc9014', '#c07c14',
           '#c06c14', '#b85e14', '#b04e14', '#a83c1c', '#a02a1c', '#901818']
member_colors = [palette[i % 20] for i in range(30)]
ctrl_color = '#0a14ff'
oper_color = '#14dc14'
mean_color = '#ffffff'

# ---------------- figure ----------------
W, H = 850, 620
fig = plt.figure(figsize=(W / 100, H / 100), dpi=100, facecolor='black')
ax = fig.add_axes([163 / W, 60 / H, 647 / W, 530 / H])
ax.set_facecolor('black')
ax2 = ax.twinx()

for name, tv, col in zip(member_names, member_temps, member_colors):
    ax.plot(times, tv, color=col, lw=0.9, zorder=2)
ax.plot(times, t_ctrl, color=ctrl_color, lw=3, zorder=3)
ax.plot(times, t_oper, color=oper_color, lw=3, zorder=4)
ax.plot(times, t_mean, color=mean_color, lw=3, zorder=5)

for name, pv, col in zip(member_names, member_precs, member_colors):
    ax2.plot(times, pv, color=col, lw=0.9, zorder=2)
ax2.plot(times, p_ctrl, color=ctrl_color, lw=3, zorder=3)
ax2.plot(times, p_oper, color=oper_color, lw=3, zorder=4)
ax2.plot(times, p_mean, color=mean_color, lw=3, zorder=5)

ax.axhline(0, color='white', lw=1.3, zorder=6)

# axes limits / ticks
x0 = pd.Timestamp("2026-08-20 00:00")
x1 = pd.Timestamp("2026-09-05 00:00")
ax.set_xlim(x0, x1)
ax.set_ylim(-10, 45)
ax.set_yticks(np.arange(-10, 46, 5))
ax2.set_ylim(0, 40)
ax2.set_yticks([0, 10, 20, 30, 40])
ax2.yaxis.set_minor_locator(MultipleLocator(1))

major_days = pd.date_range(x0, x1, freq="2D")
ax.set_xticks(major_days)
ax.set_xticklabels(tick_labels)
ax.xaxis.set_minor_locator(mdates.DayLocator())

grid_kw = dict(color='#4a4a4a', lw=0.8, linestyle=(0, (4, 3)))
ax.grid(True, which='both', axis='x', **grid_kw)
ax.grid(True, which='major', axis='y', **grid_kw)
ax.set_axisbelow(True)

for a in (ax, ax2):
    for sp in a.spines.values():
        sp.set_color('white')
        sp.set_linewidth(1.0)

ax.tick_params(axis='both', which='both', colors='white', labelsize=8, direction='in')
ax.tick_params(axis='x', labelsize=8.4)
ax.tick_params(axis='y', length=3, pad=5)
ax.tick_params(axis='x', which='major', length=3, pad=5)
ax.tick_params(axis='x', which='minor', length=0)
ax2.tick_params(axis='y', which='major', colors='white', labelsize=8, direction='in', length=6, pad=6)
ax2.tick_params(axis='y', which='minor', colors='white', direction='in', length=4)

# texts
fig.text(436 / W, 1 - 12 / H, "Brussels  (BE)  2m Temp. & Neerslag | Thu, 20Aug2026 00Z",
         color='white', fontsize=12.8, fontweight='bold', ha='center', va='center')
fig.text(120 / W, 1 - 599 / H, "GFS Ensemble, 51N, 4.5E", color='white', fontsize=12.8,
         ha='left', va='center')
fig.text(650 / W, 1 - 599 / H, "Wetterzentrale.de", color='white', fontsize=12.8,
         ha='left', va='center')
fig.text(486 / W, 1 - 589 / H, "Date (UTC)", color='white', fontsize=7.5, ha='center', va='center')
fig.text(131 / W, 1 - 295 / H, "2m Temp. (°C)", color='white', fontsize=7.5, rotation=90,
         ha='center', va='center')
fig.text(840 / W, 1 - 295 / H, "Neerslag (mm)", color='white', fontsize=7.5, rotation=90,
         ha='center', va='center')

# legend (row-major order in two columns)
handles = {}
for name, col in zip(member_names, member_colors):
    handles[name] = Line2D([], [], color=col, lw=2)
handles["Control"] = Line2D([], [], color=ctrl_color, lw=2)
handles["Ens. mean"] = Line2D([], [], color=mean_color, lw=2)
handles["Oper"] = Line2D([], [], color=oper_color, lw=2)
col1 = ["P%d" % i for i in range(1, 31, 2)] + ["Control", "Oper"]
col2 = ["P%d" % i for i in range(2, 31, 2)] + ["Ens. mean"]
order = col1 + col2
leg = fig.legend([handles[k] for k in order], order, loc='upper left',
                 bbox_to_anchor=(0.0, 1 - 34 / H), ncol=2, frameon=False,
                 fontsize=8.5, handlelength=0.8, handletextpad=0.2,
                 columnspacing=0.4, labelspacing=0.17, borderpad=0, borderaxespad=0)
for t in leg.get_texts():
    t.set_color('white')

fig.savefig("out.png", dpi=100, facecolor='black')
